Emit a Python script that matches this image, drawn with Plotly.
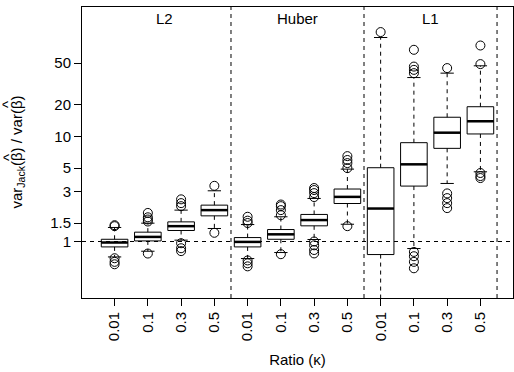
import plotly.graph_objects as go

# ---- data ----
ratio_labels = ["0.01", "0.1", "0.3", "0.5"]
groups = ["L2", "Huber", "L1"]

q1 = [0.888, 1.013, 1.273, 1.755,
      0.888, 1.05, 1.41, 2.30,
      0.751, 3.37, 7.71, 10.57]
median = [0.978, 1.106, 1.40, 1.99,
          0.991, 1.17, 1.60, 2.66,
          2.06, 5.43, 10.87, 13.96]
q3 = [1.05, 1.227, 1.538, 2.22,
      1.09, 1.30, 1.81, 3.16,
      5.04, 8.73, 15.25, 19.2]
lower_whisker = [0.713, 0.808, 1.03, 1.33,
                 0.688, 0.785, 1.045, 1.46,
                 0.2, 0.857, 3.57, 4.61]
upper_whisker = [1.36, 1.495, 1.99, 3.04,
                 1.45, 1.72, 2.57, 4.89,
                 87.6, 36.4, 40.1, 47.1]
outliers = [
    [1.40, 1.43, 0.693, 0.64, 0.607],
    [1.55, 1.62, 1.70, 1.87, 0.768],
    [2.17, 2.32, 2.52, 0.963, 0.863, 0.81],
    [3.39, 1.21],
    [1.50, 1.58, 1.72, 0.66, 0.62, 0.58],
    [1.78, 1.99, 2.17, 2.25, 0.757],
    [2.65, 2.89, 3.09, 3.23, 1.0, 0.92, 0.83, 0.77],
    [5.0, 5.58, 5.97, 6.5, 1.40],
    [98.7],
    [66.9, 46.3, 43.1, 40.1, 0.796, 0.724, 0.64, 0.556],
    [44.8, 2.87, 2.59, 2.32, 2.08],
    [73.5, 48.9, 4.49, 4.2, 4.02],
]
y_ticks = [1, 1.5, 3, 5, 10, 20, 50]
separators = [4.5, 8.5, 12.5]
ref_level = 1

# ---- derived ----
n = len(median)
pos = list(range(1, n + 1))
tick_text = ratio_labels * len(groups)
BW = 0.8
CAP = 0.2
FONT = "Liberation Sans, Arial, sans-serif"
FS = 15

fig = go.Figure()

fig.add_trace(go.Box(
    x=pos, q1=q1, median=median, q3=q3,
    lowerfence=q1, upperfence=q3,
    width=BW, whiskerwidth=0, boxpoints=False,
    fillcolor="white", line=dict(color="black", width=1),
    showlegend=False, hoverinfo="skip"))

# whiskers (dashed)
wx, wy = [], []
for p, a, b, lo, hi in zip(pos, q1, q3, lower_whisker, upper_whisker):
    wx += [p, p, None, p, p, None]
    wy += [b, hi, None, a, lo, None]
fig.add_trace(go.Scatter(x=wx, y=wy, mode="lines",
                         line=dict(color="black", width=1, dash="4px,4px"),
                         showlegend=False, hoverinfo="skip"))

# caps
cx, cy = [], []
for p, lo, hi in zip(pos, lower_whisker, upper_whisker):
    cx += [p - CAP, p + CAP, None, p - CAP, p + CAP, None]
    cy += [hi, hi, None, lo, lo, None]
fig.add_trace(go.Scatter(x=cx, y=cy, mode="lines",
                         line=dict(color="black", width=1),
                         showlegend=False, hoverinfo="skip"))

# medians (thick)
mx, my = [], []
for p, m in zip(pos, median):
    mx += [p - BW / 2, p + BW / 2, None]
    my += [m, m, None]
fig.add_trace(go.Scatter(x=mx, y=my, mode="lines",
                         line=dict(color="black", width=2.5),
                         showlegend=False, hoverinfo="skip"))

# outliers
ox, oy = [], []
for p, outs in zip(pos, outliers):
    for v in outs:
        ox.append(p)
        oy.append(v)
fig.add_trace(go.Scatter(x=ox, y=oy, mode="markers",
                         marker=dict(symbol="circle-open", size=9,
                                     color="black", line=dict(width=1)),
                         showlegend=False, hoverinfo="skip"))

# reference lines
fig.add_hline(y=ref_level, line=dict(color="black", width=1, dash="4px,4px"))
for s in separators:
    fig.add_vline(x=s, line=dict(color="black", width=1, dash="4px,4px"))

# group labels
for i, g in enumerate(groups):
    center = (i * len(ratio_labels) + 1 + (i + 1) * len(ratio_labels)) / 2
    fig.add_annotation(x=center, y=0.959, xref="x", yref="paper",
                       xanchor="center", yanchor="middle",
                       text=g, showarrow=False,
                       font=dict(family=FONT, size=FS, color="black"))

# y-axis title with hats
fig.add_annotation(x=-0.1508, y=0.5, xref="paper", yref="paper",
                   xanchor="center", yanchor="middle", textangle=-90,
                   text="var<sub>Jack</sub>(β) / var(β)", showarrow=False,
                   font=dict(family=FONT, size=FS, color="black"))
for yy in (0.4845, 0.6667):
    fig.add_annotation(x=-0.1717, y=yy, xref="paper", yref="paper",
                       xanchor="center", yanchor="middle", textangle=-90,
                       text="^", showarrow=False,
                       font=dict(family=FONT, size=FS, color="black"))

fig.update_layout(
    width=514, height=372,
    margin=dict(l=82, r=1, t=7, b=74),
    plot_bgcolor="white", paper_bgcolor="white",
    font=dict(family=FONT, size=FS, color="black"),
)
fig.update_xaxes(
    range=[0.02, 12.98], tickmode="array", tickvals=pos, ticktext=tick_text,
    tickangle=-90, ticks="outside", ticklen=7, tickcolor="black",
    showline=True, linecolor="black", linewidth=1, mirror=True,
    showgrid=False, zeroline=False,
    title=dict(text="Ratio (κ)", standoff=14, font=dict(size=FS)),
)
fig.update_yaxes(
    type="log", range=[-0.538, 2.233], tickmode="array",
    tickvals=y_ticks, ticktext=[str(t) for t in y_ticks],
    ticks="outside", ticklen=7, tickcolor="black",
    showline=True, linecolor="black", linewidth=1, mirror=True,
    showgrid=False, zeroline=False,
)

fig.write_html("out.html")
